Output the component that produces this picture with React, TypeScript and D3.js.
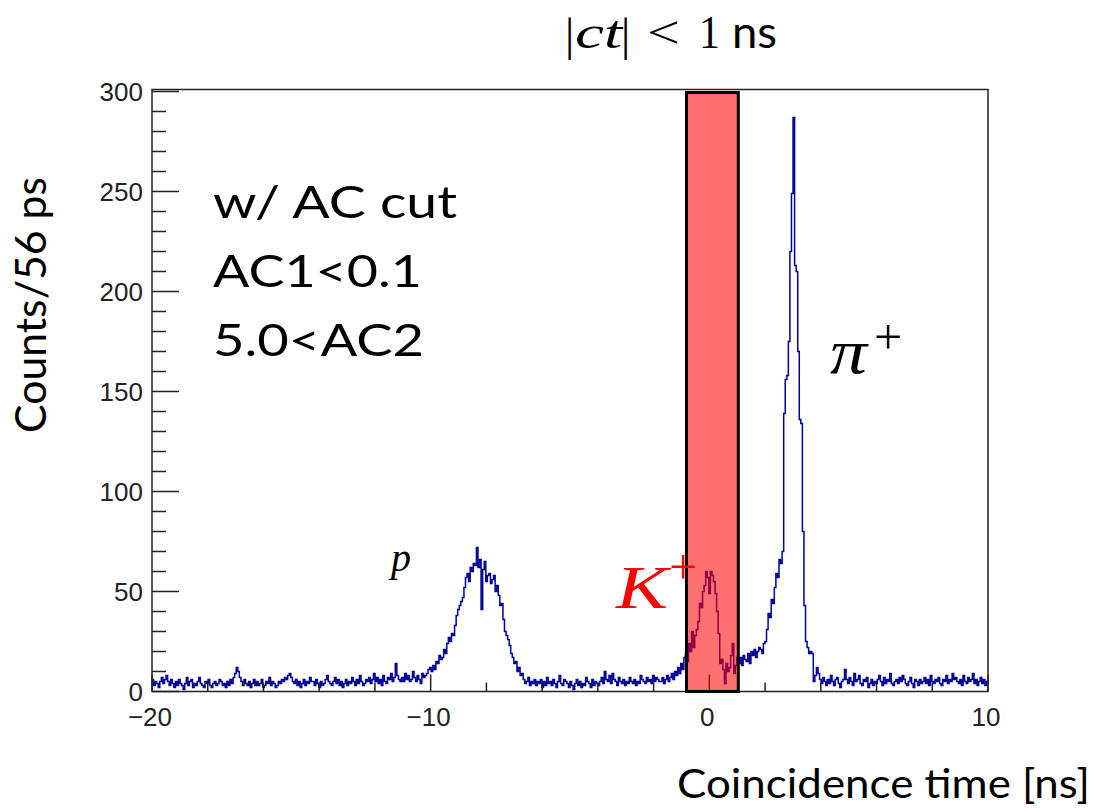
import React, { useEffect } from "react";
import * as d3 from "d3";

// ---- Data: histogram counts per 56 ps bin, from -20 ns to 10 ns (536 bins) ----
const X_MIN = -20;
const X_MAX = 10;

const bgLeft = [
  6, 3, 5, 4, 2, 5, 7, 4, 6, 8, 5, 3, 6, 4, 2, 5, 3, 6, 4, 3,
  1, 4, 7, 3, 5, 6, 2, 4, 3, 5, 7, 4, 3, 2, 5, 4, 6, 3, 2, 4,
  5, 3, 4, 6, 5, 3, 4, 2, 5, 3, 6, 4, 7, 9, 12, 10, 7, 5, 3, 6,
  4, 3, 5, 2, 4, 6, 3, 5, 3, 4, 6, 2, 3, 5, 4, 7, 3, 5, 4, 2,
  3, 5, 4, 6, 5, 7, 6, 8, 9, 7, 5, 4, 6, 3, 5, 2, 4, 6, 3, 5,
  4, 7, 5, 5, 3, 6, 4, 2, 5, 3, 4, 6, 8, 5, 4, 3, 5, 7, 4, 6,
  3, 5, 2, 4, 6, 3, 5, 4, 7, 5, 3, 6, 4, 8, 5, 3, 4, 6, 5, 7,
  4, 6, 9, 5, 7, 4, 6, 3, 8, 5, 4, 7, 6, 9, 5, 7, 14, 8, 6, 5,
  7, 5, 9, 6, 8, 5, 6, 10, 7, 5, 8, 6, 4, 9, 7, 8,
];

const protonPeak = [
  9, 11, 12, 10, 13, 11, 15, 14, 18, 16,
  17, 21, 19, 24, 27, 25, 29, 28, 33, 38,
  41, 43, 45, 47, 52, 57, 59, 55, 62, 60,
  64, 63, 72, 62, 66, 41, 61, 65, 55, 58,
  59, 54, 56, 58, 50, 53, 48, 43, 44, 36,
  30, 28, 26, 23, 19, 17, 14, 15, 10, 12,
  8, 9, 6, 4, 5, 7, 3, 5, 4, 6,
];

const bgMiddle = [
  3, 5, 4, 6, 2, 5, 3, 7, 4, 5, 3, 6, 4, 2, 5, 8, 4, 3, 6, 5,
  4, 2, 5, 3, 1, 4, 6, 3, 5, 2, 4, 3, 7, 5, 4, 2, 6, 3, 5, 4,
  3, 5, 7, 4, 10, 6, 5, 8, 4, 9, 6, 5, 3, 7, 5, 4, 6, 3, 5, 4,
  7, 5, 4, 6, 3, 5, 4, 8, 6, 5, 4, 7, 5, 6, 4, 8, 5, 7, 6, 5,
  5, 7, 4, 6, 8, 5, 7, 9, 6, 10, 8, 12, 9, 14, 11, 17,
];

const kaonPeak = [
  19, 15, 24, 20, 30, 22, 28, 31, 35, 44,
  42, 50, 53, 60, 57, 49, 60, 58, 55, 49,
  40, 29, 14, 16, 11, 4, 14, 10, 12, 18,
  24, 9, 13, 17,
];

const pionPeak = [
  14, 17, 13, 18, 16, 15, 19, 14, 20, 18, 21, 17, 20, 22,
  21, 19, 24, 25, 31, 39, 37, 46, 44, 52, 59, 57, 66, 64, 70,
  139, 156, 158, 175, 220, 249, 287, 213, 210, 170, 136, 134, 80, 43, 25, 22, 19, 20, 19,
];

const bgRight = [
  5, 8, 12, 9, 6, 4, 7, 5, 3, 6, 4, 8, 5, 3, 6, 7, 4, 2, 5, 6,
  11, 6, 4, 7, 5, 3, 9, 5, 6, 8, 4, 3, 6, 5, 7, 2, 4, 6, 3, 5,
  4, 6, 8, 5, 3, 7, 4, 6, 5, 9, 4, 3, 5, 6, 4, 7, 5, 8, 6, 4,
  3, 5, 7, 4, 2, 6, 5, 3, 6, 4, 5, 7, 4, 6, 3, 8, 5, 4, 6, 5,
  7, 4, 3, 6, 5, 8, 4, 6, 5, 9, 6, 7, 5, 4, 6, 3, 8, 5, 4, 7,
  5, 6, 9, 4, 6, 3, 5, 7, 4, 6, 3, 5,
];

const counts = [...bgLeft, ...protonPeak, ...bgMiddle, ...kaonPeak, ...pionPeak, ...bgRight];

// Selection window (|ct| < 1 ns band as drawn)
const bandRange = [-0.82, 1.04];

// Axis ticks
const xMajorTicks = [-20, -10, 0, 10];
const xTickLabels = ["\u221220", "\u221210", "0", "10"];
const xMinorTicks = [-20, -18, -16, -14, -12, -10, -8, -6, -4, -2, 0, 2, 4, 6, 8, 10];
const yMajorTicks = [0, 50, 100, 150, 200, 250, 300];
const yMinorTicks = d3.range(0, 301, 10);

const cutLines = ["w/ AC cut", "AC1<0.1", "5.0<AC2"];

export default function App() {
  useEffect(() => {
    document.body.style.margin = "0";
  }, []);

  const W = 1101;
  const H = 812;
  const left = 152, right = 988, top = 89.5, bottom = 691.5;

  const x = d3.scaleLinear().domain([X_MIN, X_MAX]).range([left, right]);
  const y = d3.scaleLinear().domain([0, 301]).range([bottom, top]);

  const n = counts.length;
  const bw = (X_MAX - X_MIN) / n;
  const pts: [number, number][] = counts.map((c, i) => [X_MIN + i * bw, c]);
  pts.push([X_MAX, counts[n - 1]]);
  const line = d3
    .line<[number, number]>()
    .x((d) => x(d[0]))
    .y((d) => y(d[1]))
    .curve(d3.curveStepAfter);
  const histPath = line(pts) || "";

  const axisColor = "#222";
  const sans = "Lato, 'Open Sans', sans-serif";
  const rootFont = "'Liberation Sans', Arial, sans-serif";
  const serif = "'Liberation Serif', 'DejaVu Serif', serif";

  return (
    <svg width={W} height={H} style={{ position: "absolute", left: 0, top: 0, background: "#fff" }}>
      <rect x={0} y={0} width={W} height={H} fill="#fff" />
      <defs>
        <clipPath id="frameClip">
          <rect x={left} y={top} width={right - left} height={bottom - top} />
        </clipPath>
      </defs>

      {/* histogram */}
      <path d={histPath} fill="none" stroke="#000099" strokeWidth={1.5} clipPath="url(#frameClip)" />

      {/* frame */}
      <rect x={left} y={top} width={right - left} height={bottom - top} fill="none" stroke={axisColor} strokeWidth={1.5} />

      {/* y ticks */}
      {yMinorTicks.map((t) => (
        <line key={"ym" + t} x1={left} x2={left + (t % 50 === 0 ? 27 : 14)} y1={y(t)} y2={y(t)} stroke={axisColor} strokeWidth={1.5} />
      ))}
      {yMajorTicks.map((t) => (
        <text key={"yl" + t} x={143} y={y(t) + 9} textAnchor="end" fontFamily={rootFont} fontSize={26} fill="#222">
          {t}
        </text>
      ))}

      {/* x ticks */}
      {xMinorTicks.map((t) => (
        <line key={"xm" + t} x1={x(t)} x2={x(t)} y1={bottom} y2={bottom - (xMajorTicks.includes(t) ? 17 : 9)} stroke={axisColor} strokeWidth={1.5} />
      ))}
      {xMajorTicks.map((t, i) => (
        <text key={"xl" + t} x={x(t) - 2} y={726} textAnchor="middle" fontFamily={rootFont} fontSize={26} fill="#222">
          {xTickLabels[i]}
        </text>
      ))}

      {/* selection band */}
      <rect
        x={x(bandRange[0])}
        y={y(299.5)}
        width={x(bandRange[1]) - x(bandRange[0])}
        height={y(0) - y(299.5)}
        fill="rgb(255,0,0)"
        fillOpacity={0.56}
        stroke="#000"
        strokeWidth={3}
      />

      {/* title: |ct| < 1 ns */}
      <g fill="#000">
        <text x={565} y={50} fontFamily={serif} fontSize={46}>|</text>
        <text x={575} y={48} fontFamily={serif} fontStyle="italic" fontSize={46} textLength={47} lengthAdjust="spacingAndGlyphs">ct</text>
        <text x={621} y={50} fontFamily={serif} fontSize={46}>|</text>
        <text x={647} y={48} fontFamily={serif} fontSize={46} textLength={33} lengthAdjust="spacingAndGlyphs">&lt;</text>
        <text x={699} y={48} fontFamily={serif} fontSize={46} textLength={21} lengthAdjust="spacingAndGlyphs">1</text>
        <text x={732} y={48} fontFamily={sans} fontSize={44} textLength={45} lengthAdjust="spacingAndGlyphs">ns</text>
      </g>

      {/* cut annotation */}
      {cutLines.map((s, i) => (
        <text
          key={s}
          x={213}
          y={218 + i * 69}
          fontFamily={sans}
          fontSize={44}
          fill="#000"
          textLength={[244, 209, 211][i]}
          lengthAdjust="spacingAndGlyphs"
        >
          {s}
        </text>
      ))}

      {/* particle labels */}
      <text x={830} y={373} fontFamily={serif} fontStyle="italic" fontSize={64} fill="#000" textLength={37} lengthAdjust="spacingAndGlyphs">π</text>
      <text x={888} y={354} fontFamily={serif} fontSize={50} textAnchor="middle" fill="#000">+</text>

      <text x={391} y={571} fontFamily={serif} fontStyle="italic" fontSize={40} fill="#000">p</text>

      <text x={616} y={608} fontFamily={serif} fontStyle="italic" fontSize={62} fill="#ff0000" textLength={52} lengthAdjust="spacingAndGlyphs">K</text>
      <text x={683} y={584} fontFamily={serif} fontSize={50} textAnchor="middle" fill="#ff0000">+</text>

      {/* axis titles */}
      <text
        transform={`translate(46, 305) rotate(-90)`}
        textAnchor="middle"
        fontFamily={sans}
        fontSize={43}
        fill="#000"
        textLength={256}
        lengthAdjust="spacingAndGlyphs"
      >
        Counts/56 ps
      </text>
      <text
        x={677}
        y={798}
        fontFamily={sans}
        fontSize={41}
        fill="#000"
        textLength={413}
        lengthAdjust="spacingAndGlyphs"
      >
        Coincidence time [ns]
      </text>
    </svg>
  );
}
